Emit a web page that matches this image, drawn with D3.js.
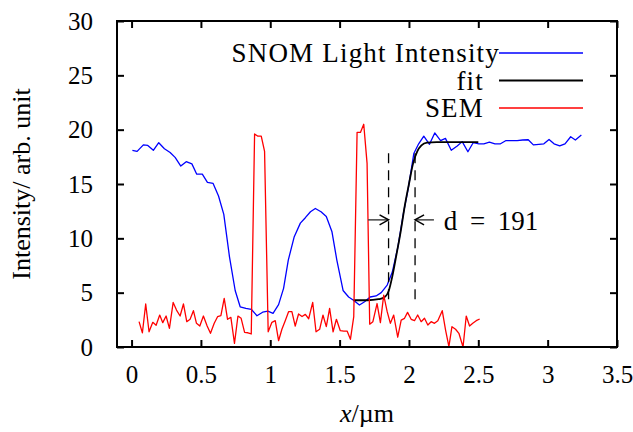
<!DOCTYPE html>
<html>
<head>
<meta charset="utf-8">
<script src="https://cdn.jsdelivr.net/npm/d3@7"></script>
<style>
  body { margin: 0; background: #fff; }
  svg text { font-family: "Liberation Serif", serif; fill: #000; }
</style>
</head>
<body>
<div id="chart"></div>
<script>
// SNOM light intensity (blue)
var snomX = [0.006, 0.04, 0.085, 0.117, 0.157, 0.196, 0.237, 0.278, 0.314, 0.355, 0.394, 0.435, 0.47, 0.51, 0.547, 0.588,
    0.627, 0.665, 0.706, 0.747, 0.783, 0.824, 0.863, 0.904, 0.945, 0.983, 1.02, 1.06, 1.096, 1.13, 1.173, 1.217,
    1.253, 1.29, 1.325, 1.366, 1.404, 1.445, 1.48, 1.525, 1.565, 1.60, 1.643, 1.68, 1.72, 1.763, 1.80, 1.843,
    1.88, 1.92, 1.96, 1.995, 2.035, 2.07, 2.107, 2.148, 2.186, 2.228, 2.263, 2.305, 2.348, 2.384, 2.425, 2.463,
    2.504, 2.54, 2.58, 2.62, 2.66, 2.70, 2.74, 2.78, 2.82, 2.86, 2.897, 2.937, 2.973, 3.01, 3.046, 3.087,
    3.125, 3.166, 3.20, 3.243];
var snomY = [18.1, 18.0, 18.6, 18.55, 18.1, 18.8, 18.25, 17.9, 17.45, 16.65, 17.05, 16.85, 15.9, 15.9, 15.15, 15.05,
    13.9, 12.2, 8.3, 5.2, 3.7, 3.55, 3.47, 2.88, 3.2, 3.3, 3.1, 3.9, 5.4, 8.0, 10.15, 11.4,
    11.9, 12.45, 12.75, 12.45, 12.0, 10.6, 8.0, 5.2, 4.6, 4.3, 3.86, 4.17, 4.6, 4.7, 5.0, 5.7,
    6.9, 9.2, 12.3, 14.6, 17.8, 18.7, 19.4, 18.65, 19.7, 19.0, 19.2, 18.1, 18.5, 18.9, 17.97, 18.8,
    18.7, 18.7, 18.85, 18.7, 18.7, 19.0, 19.0, 19.0, 19.05, 19.07, 18.6, 18.65, 18.7, 19.1, 18.7, 18.5,
    18.7, 19.35, 19.05, 19.5];

// fit (black)
var fitX = [1.60, 1.70, 1.78, 1.82, 1.855, 1.88, 1.91, 1.94, 1.97, 2.00, 2.03, 2.06, 2.09, 2.13, 2.20, 2.50];
var fitY = [4.3, 4.3, 4.4, 4.55, 5.2, 6.5, 8.5, 10.6, 13.0, 15.0, 16.9, 18.0, 18.55, 18.8, 18.85, 18.85];

// SEM (red)
var semX = [0.054, 0.078, 0.102, 0.126, 0.153, 0.177, 0.203, 0.225, 0.249, 0.273, 0.300, 0.324, 0.350, 0.374, 0.398, 0.422,
    0.446, 0.468, 0.492, 0.518, 0.545, 0.569, 0.596, 0.620, 0.644, 0.668, 0.692, 0.716, 0.742, 0.767, 0.790, 0.815,
    0.839, 0.863, 0.887, 0.911, 0.935, 0.959, 0.985, 1.012, 1.036, 1.060, 1.084, 1.108, 1.132, 1.156, 1.180, 1.204,
    1.229, 1.253, 1.277, 1.306, 1.330, 1.356, 1.380, 1.404, 1.428, 1.453, 1.477, 1.505, 1.530, 1.554, 1.578, 1.602,
    1.626, 1.650, 1.674, 1.698, 1.717, 1.740, 1.770, 1.794, 1.818, 1.843, 1.866, 1.890, 1.919, 1.944, 1.968, 1.990,
    2.016, 2.040, 2.063, 2.088, 2.112, 2.136, 2.160, 2.184, 2.208, 2.240, 2.264, 2.288, 2.310, 2.336, 2.360, 2.390,
    2.413, 2.437, 2.460, 2.485, 2.510];
var semY = [2.33, 1.3, 3.96, 1.4, 2.27, 2.0, 2.94, 2.24, 2.85, 1.72, 4.1, 3.4, 2.85, 3.96, 2.33, 2.55,
    3.34, 2.18, 1.93, 2.85, 1.93, 1.26, 2.18, 2.79, 2.88, 4.48, 2.55, 2.73, 0.34, 2.85, 2.64, 1.35,
    1.31, 1.2, 19.6, 19.4, 19.4, 18.0, 1.4, 2.27, 2.42, 0.58, 1.63, 2.42, 3.25, 3.25, 1.93, 3.04,
    2.8, 3.0, 2.6, 4.1, 1.4, 1.63, 2.94, 1.87, 3.56, 1.4, 2.55, 1.5, 1.47, 1.47, 0.71, 2.8,
    19.75, 19.75, 20.5, 16.9, 2.1, 2.33, 4.0, 2.24, 4.78, 3.25, 2.18, 2.94, 0.9, 2.48, 2.64, 3.19,
    2.55, 2.42, 2.94, 2.33, 2.64, 2.02, 2.33, 2.18, 2.42, 3.34, 1.56, 0.03, 1.87, 1.63, 1.26, 0.0,
    2.85, 1.93, 2.18, 2.42, 2.58];

var xTicks = [0, 0.5, 1, 1.5, 2, 2.5, 3, 3.5];
var yTicks = [0, 5, 10, 15, 20, 25, 30];

// d annotation: edges of the step and arrow ends
var dEdges = [1.853, 2.044];
var dRangeY = [4.4, 18.1];
var dArrowY = 11.7;
var dArrowTails = [1.705, 2.18];
var dLabel = "d = 191";

var series = [
    { name: "SNOM Light Intensity", color: "#0000ff", width: 1.3, x: snomX, y: snomY, curve: d3.curveLinear },
    { name: "fit", color: "#000000", width: 1.8, x: fitX, y: fitY, curve: d3.curveMonotoneX },
    { name: "SEM", color: "#ff0000", width: 1.3, x: semX, y: semY, curve: d3.curveLinear }
];

var W = 633, H = 432;
var margin = { top: 21, right: 16, bottom: 85, left: 117 };
var width = W - margin.left - margin.right;
var height = H - margin.top - margin.bottom;

var svg = d3.select("#chart").append("svg")
    .attr("width", W)
    .attr("height", H);

var g = svg.append("g")
    .attr("transform", "translate(" + margin.left + "," + margin.top + ")");

var x = d3.scaleLinear().domain([-0.105, 3.5]).range([0, width]);
var y = d3.scaleLinear().domain([0, 30]).range([height, 0]);

// axes, ticks pointing inward
var tickLen = 7;
var xAxis = g.append("g")
    .attr("transform", "translate(0," + height + ")")
    .call(d3.axisBottom(x).tickValues(xTicks).tickSize(-tickLen).tickPadding(18)
        .tickFormat(function (d) { return d; }));
var xAxisTop = g.append("g")
    .call(d3.axisTop(x).tickValues(xTicks).tickSize(-tickLen).tickFormat(""));
var yAxis = g.append("g")
    .call(d3.axisLeft(y).tickValues(yTicks).tickSize(-tickLen).tickPadding(24));
var yAxisRight = g.append("g")
    .attr("transform", "translate(" + width + ",0)")
    .call(d3.axisRight(y).tickValues(yTicks).tickSize(-tickLen).tickFormat(""));

g.selectAll(".domain").remove();
g.selectAll(".tick line").attr("stroke", "#000").attr("stroke-width", 2);
g.selectAll(".tick text")
    .style("font-family", "Liberation Serif")
    .attr("font-size", "25px")
    .attr("fill", "#000");
xAxis.selectAll(".tick text").attr("dy", "0.71em");

// series
series.forEach(function (s) {
    var pts = s.x.map(function (v, i) { return [v, s.y[i]]; });
    var line = d3.line()
        .x(function (d) { return x(d[0]); })
        .y(function (d) { return y(d[1]); })
        .curve(s.curve);
    g.append("path")
        .datum(pts)
        .attr("fill", "none")
        .attr("stroke", s.color)
        .attr("stroke-width", s.width)
        .attr("stroke-linejoin", "round")
        .attr("d", line);
});

// dashed edges
dEdges.forEach(function (e) {
    g.append("line")
        .attr("x1", x(e)).attr("x2", x(e))
        .attr("y1", y(dRangeY[0])).attr("y2", y(dRangeY[1]))
        .attr("stroke", "#000")
        .attr("stroke-width", 1.3)
        .attr("stroke-dasharray", "10,7");
});

// arrows pointing at the edges
dEdges.forEach(function (e, i) {
    var tail = dArrowTails[i];
    var dir = e > tail ? 1 : -1;
    var hx = x(e), hy = y(dArrowY);
    g.append("line")
        .attr("x1", x(tail)).attr("x2", hx)
        .attr("y1", hy).attr("y2", hy)
        .attr("stroke", "#444")
        .attr("stroke-width", 1.5);
    g.append("path")
        .attr("d", "M" + (hx - dir * 9) + "," + (hy - 5) + "L" + hx + "," + hy + "L" + (hx - dir * 9) + "," + (hy + 5))
        .attr("fill", "none")
        .attr("stroke", "#000")
        .attr("stroke-width", 1.5);
});

g.append("text")
    .attr("x", x(2.25))
    .attr("y", y(10.76))
    .attr("font-size", "27px")
    .style("word-spacing", "6px")
    .text(dLabel);

// frame
g.append("rect")
    .attr("width", width)
    .attr("height", height)
    .attr("fill", "none")
    .attr("stroke", "#000")
    .attr("stroke-width", 2);

// legend
var legend = svg.append("g");
series.forEach(function (s, i) {
    var ly = 53 + i * 27.5;
    legend.append("text")
        .attr("x", i === 0 ? 500 : 484)
        .attr("y", ly + 9)
        .attr("text-anchor", "end")
        .attr("font-size", "27px")
        .style("letter-spacing", "1.2px")
        .text(s.name);
    legend.append("line")
        .attr("x1", 499).attr("x2", 583)
        .attr("y1", ly).attr("y2", ly)
        .attr("stroke", s.color)
        .attr("stroke-width", s.width);
});

// axis labels
var xl = svg.append("text")
    .attr("x", margin.left + width / 2)
    .attr("y", 422)
    .attr("text-anchor", "middle")
    .attr("font-size", "26px");
xl.append("tspan").attr("font-style", "italic").text("x");
xl.append("tspan").text("/µm");

svg.append("text")
    .attr("transform", "translate(30," + (margin.top + height / 2) + ") rotate(-90)")
    .attr("text-anchor", "middle")
    .attr("font-size", "26px")
    .text("Intensity/ arb. unit");
</script>
</body>
</html>
